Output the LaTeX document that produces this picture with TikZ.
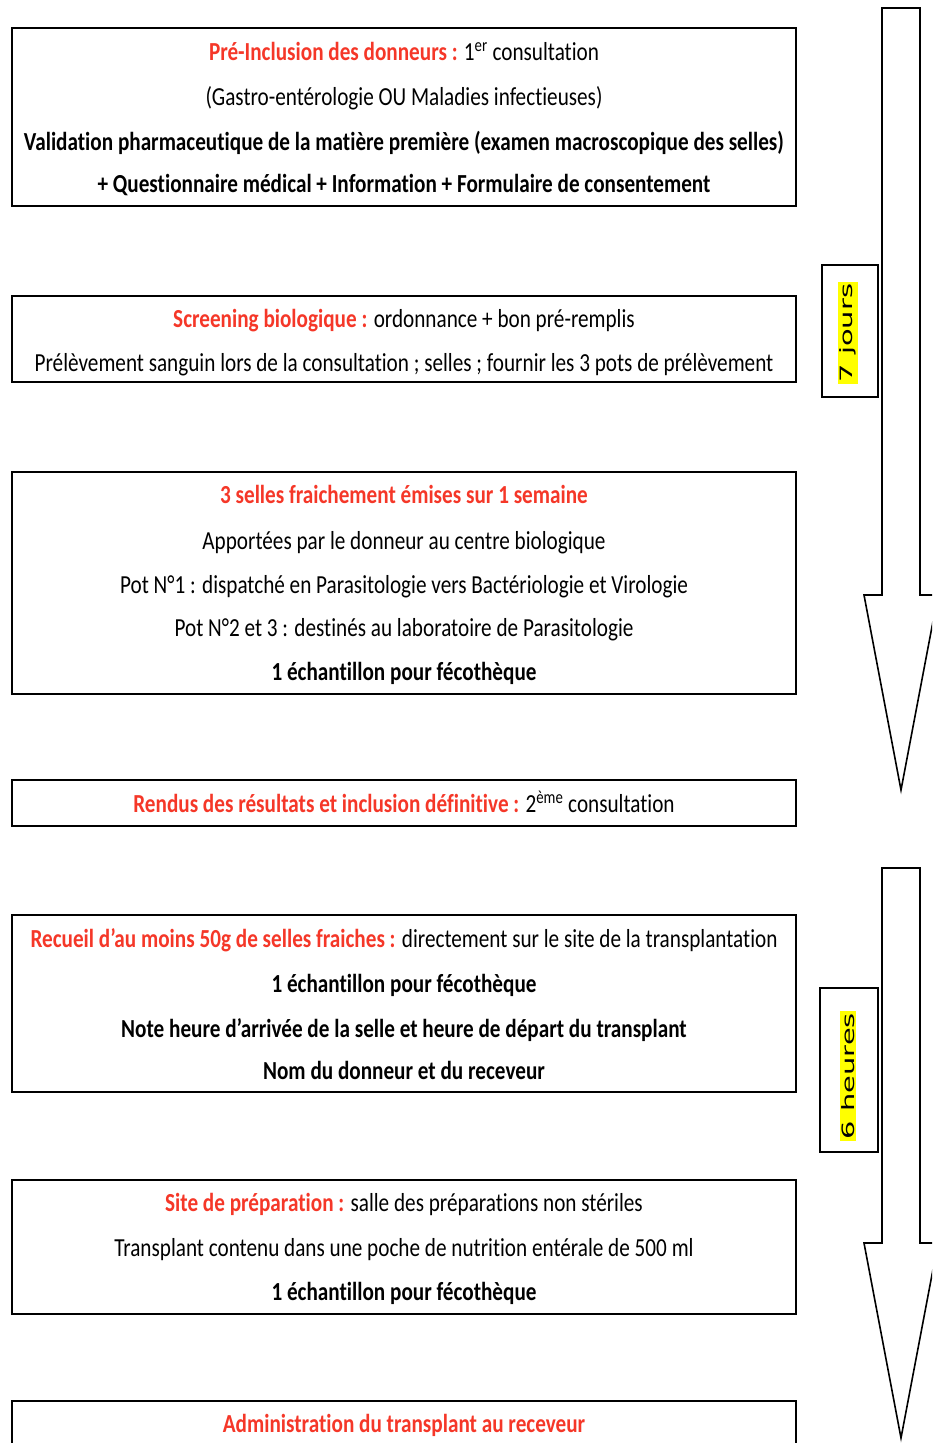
\documentclass[tikz,border=0pt]{standalone}
\usepackage{fontspec}
\setmainfont{Carlito}[FakeStretch=0.815,Ligatures=NoCommon]
\newfontfamily\labelfont{DejaVu Sans}
\definecolor{tred}{RGB}{245,55,40}
\definecolor{hyel}{RGB}{255,255,0}
\begin{document}
\begin{tikzpicture}[x=1pt,y=-1pt,
  stepbox/.style={draw=black,line width=1.6pt,fill=white,inner sep=0pt},
  txt/.style={inner sep=0pt,text height=18pt,text depth=5pt,font=\fontsize{26}{30}\selectfont},
  bigarrow/.style={draw=black,line width=1.6pt,fill=white,line join=miter},
  sidebox/.style={draw=black,line width=1.6pt,fill=white,inner sep=0pt},
  sidelbl/.style={rotate=90,fill=hyel,inner sep=1.5pt,font=\labelfont\fontsize{17}{19}\selectfont}]
\useasboundingbox (0,0) rectangle (932,1443);
\clip (0,0) rectangle (932,1443);
\fill[white] (0,0) rectangle (932,1443);
% boxes
\node[stepbox,minimum width=784pt,minimum height=178pt] (b1) at (404,117) {};
\node[stepbox,minimum width=784pt,minimum height=86pt] (b2) at (404,339) {};
\node[stepbox,minimum width=784pt,minimum height=222pt] (b3) at (404,583) {};
\node[stepbox,minimum width=784pt,minimum height=46pt] (b4) at (404,803) {};
\node[stepbox,minimum width=784pt,minimum height=177pt] (b5) at (404,1003.5) {};
\node[stepbox,minimum width=784pt,minimum height=134pt] (b6) at (404,1247) {};
\node[stepbox,minimum width=784pt,minimum height=100pt] (b7) at (404,1451) {};
% text box 1
\node[txt] (t11) at (404,54) {\textcolor{tred}{\bfseries Pré-Inclusion des donneurs :} 1\textsuperscript{er} consultation};
\node[txt] (t12) at (404,99) {(Gastro-entérologie OU Maladies infectieuses)};
\node[txt] (t13) at (404,144) {\bfseries Validation pharmaceutique de la matière première (examen macroscopique des selles)};
\node[txt] (t14) at (404,186) {\bfseries + Questionnaire médical + Information + Formulaire de consentement};
% box 2
\node[txt] (t21) at (404,321) {\textcolor{tred}{\bfseries Screening biologique :} ordonnance + bon pré-remplis};
\node[txt] (t22) at (404,365) {Prélèvement sanguin lors de la consultation ; selles ; fournir les 3 pots de prélèvement};
% box 3
\node[txt] (t31) at (404,497) {\textcolor{tred}{\bfseries 3 selles fraichement émises sur 1 semaine}};
\node[txt] (t32) at (404,543) {Apportées par le donneur au centre biologique};
\node[txt] (t33) at (404,587) {Pot N°1 : dispatché en Parasitologie vers Bactériologie et Virologie};
\node[txt] (t34) at (404,630) {Pot N°2 et 3 : destinés au laboratoire de Parasitologie};
\node[txt] (t35) at (404,674) {\bfseries 1 échantillon pour fécothèque};
% box 4
\node[txt] (t41) at (404,806) {\textcolor{tred}{\bfseries Rendus des résultats et inclusion définitive :} 2\textsuperscript{ème} consultation};
% box 5
\node[txt] (t51) at (404,941) {\textcolor{tred}{\bfseries Recueil d’au moins 50g de selles fraiches :} directement sur le site de la transplantation};
\node[txt] (t52) at (404,986) {\bfseries 1 échantillon pour fécothèque};
\node[txt] (t53) at (404,1031) {\bfseries Note heure d’arrivée de la selle et heure de départ du transplant};
\node[txt] (t54) at (404,1073) {\bfseries Nom du donneur et du receveur};
% box 6
\node[txt] (t61) at (404,1205) {\textcolor{tred}{\bfseries Site de préparation :} salle des préparations non stériles};
\node[txt] (t62) at (404,1250) {Transplant contenu dans une poche de nutrition entérale de 500 ml};
\node[txt] (t63) at (404,1294) {\bfseries 1 échantillon pour fécothèque};
% box 7
\node[txt] (t71) at (404,1426) {\textcolor{tred}{\bfseries Administration du transplant au receveur}};
% big arrows
\draw[bigarrow] (882,8) -- (920,8) -- (920,595) -- (938,595) -- (901,790) -- (864,595) -- (882,595) -- cycle;
\draw[bigarrow] (882,868) -- (920,868) -- (920,1243) -- (938,1243) -- (901,1438) -- (864,1243) -- (882,1243) -- cycle;
% side labels
\node[sidebox,minimum width=56pt,minimum height=132pt] (s1) at (850,331) {};
\node[sidelbl] (l1) at (848,333) {\scalebox{1.7}[1]{7 jours}};
\node[sidebox,minimum width=58pt,minimum height=164pt] (s2) at (849,1070) {};
\node[sidelbl] (l2) at (848,1076) {\scalebox{1.7}[1]{6 heures}};
\end{tikzpicture}
\end{document}
